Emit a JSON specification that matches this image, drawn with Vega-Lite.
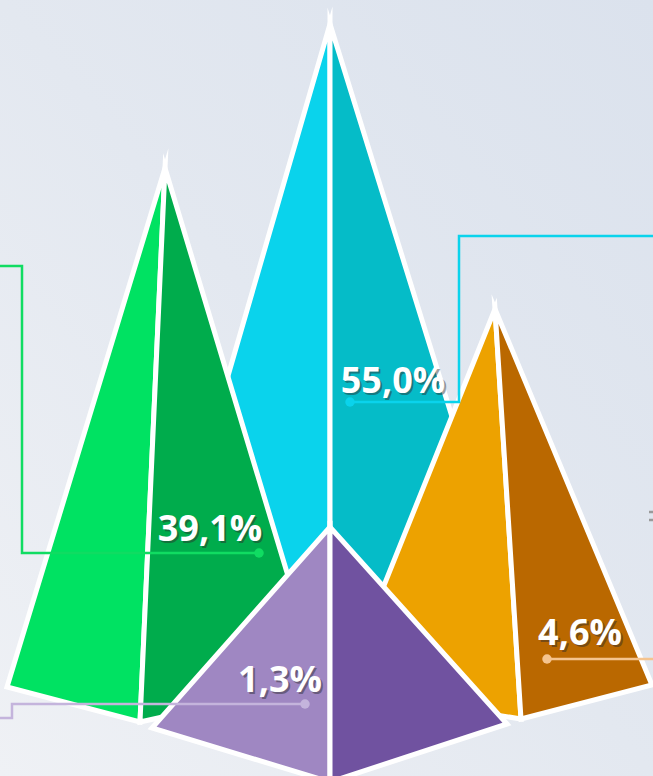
{
  "$schema": "https://vega.github.io/schema/vega-lite/v6.json",
  "width": 653,
  "height": 776,
  "padding": 0,
  "autosize": {"type": "none"},
  "background": "#e4e9f1",
  "config": {"view": {"stroke": null}},
  "datasets": {
    "bg": [{"x": 0, "x2": 653, "y": 0, "y2": 776}],
    "faces": [
      {"pyr": "cyan", "face": "cL", "i": 0, "x": 330, "y": 24},
      {"pyr": "cyan", "face": "cL", "i": 1, "x": 134, "y": 700},
      {"pyr": "cyan", "face": "cL", "i": 2, "x": 330, "y": 720},
      {"pyr": "cyan", "face": "cR", "i": 0, "x": 330, "y": 24},
      {"pyr": "cyan", "face": "cR", "i": 1, "x": 330, "y": 720},
      {"pyr": "cyan", "face": "cR", "i": 2, "x": 540, "y": 700},
      {"pyr": "green", "face": "gL", "i": 0, "x": 165, "y": 168},
      {"pyr": "green", "face": "gL", "i": 1, "x": 7, "y": 687},
      {"pyr": "green", "face": "gL", "i": 2, "x": 140, "y": 722},
      {"pyr": "green", "face": "gR", "i": 0, "x": 165, "y": 168},
      {"pyr": "green", "face": "gR", "i": 1, "x": 140, "y": 722},
      {"pyr": "green", "face": "gR", "i": 2, "x": 320, "y": 682},
      {"pyr": "orange", "face": "oL", "i": 0, "x": 495, "y": 309},
      {"pyr": "orange", "face": "oL", "i": 1, "x": 342, "y": 690},
      {"pyr": "orange", "face": "oL", "i": 2, "x": 521, "y": 719},
      {"pyr": "orange", "face": "oR", "i": 0, "x": 495, "y": 309},
      {"pyr": "orange", "face": "oR", "i": 1, "x": 521, "y": 719},
      {"pyr": "orange", "face": "oR", "i": 2, "x": 652, "y": 685},
      {"pyr": "purple", "face": "pL", "i": 0, "x": 330, "y": 527},
      {"pyr": "purple", "face": "pL", "i": 1, "x": 152, "y": 728},
      {"pyr": "purple", "face": "pL", "i": 2, "x": 330, "y": 782},
      {"pyr": "purple", "face": "pR", "i": 0, "x": 330, "y": 527},
      {"pyr": "purple", "face": "pR", "i": 1, "x": 330, "y": 782},
      {"pyr": "purple", "face": "pR", "i": 2, "x": 507, "y": 724}
    ],
    "leaders": [
      {"s": "green", "i": 0, "x": 259, "y": 553},
      {"s": "green", "i": 1, "x": 22, "y": 553},
      {"s": "green", "i": 2, "x": 22, "y": 266},
      {"s": "green", "i": 3, "x": -5, "y": 266},
      {"s": "cyan", "i": 0, "x": 350, "y": 402},
      {"s": "cyan", "i": 1, "x": 459, "y": 402},
      {"s": "cyan", "i": 2, "x": 459, "y": 236},
      {"s": "cyan", "i": 3, "x": 660, "y": 236},
      {"s": "purple", "i": 0, "x": 305, "y": 704},
      {"s": "purple", "i": 1, "x": 12, "y": 704},
      {"s": "purple", "i": 2, "x": 12, "y": 718},
      {"s": "purple", "i": 3, "x": -5, "y": 718},
      {"s": "orange", "i": 0, "x": 547, "y": 659},
      {"s": "orange", "i": 1, "x": 660, "y": 659},
      {"s": "gray1", "i": 0, "x": 649, "y": 512},
      {"s": "gray1", "i": 1, "x": 656, "y": 512},
      {"s": "gray2", "i": 0, "x": 649, "y": 520},
      {"s": "gray2", "i": 1, "x": 656, "y": 520}
    ],
    "dots": [
      {"s": "green", "x": 259, "y": 553},
      {"s": "cyan", "x": 350, "y": 402},
      {"s": "purple", "x": 305, "y": 704},
      {"s": "orange", "x": 547, "y": 659}
    ],
    "labels": [
      {"label": "39,1%", "x": 210, "y": 541},
      {"label": "55,0%", "x": 393, "y": 393},
      {"label": "1,3%", "x": 280, "y": 692},
      {"label": "4,6%", "x": 580, "y": 645}
    ]
  },
  "encoding": {
    "x": {"field": "x", "type": "quantitative", "scale": {"domain": [0, 653], "nice": false, "zero": false}, "axis": null},
    "y": {"field": "y", "type": "quantitative", "scale": {"domain": [0, 776], "nice": false, "zero": false, "reverse": true}, "axis": null}
  },
  "layer": [
    {
      "data": {"name": "bg"},
      "mark": {"type": "rect", "fill": {"gradient": "linear", "x1": 0, "y1": 1, "x2": 1, "y2": 0, "stops": [{"offset": 0, "color": "#eff1f5"}, {"offset": 0.5, "color": "#e3e8f0"}, {"offset": 1, "color": "#dbe2ed"}]}},
      "encoding": {"x2": {"field": "x2"}, "y2": {"field": "y2"}}
    },
    {
      "data": {"name": "faces"},
      "transform": [{"filter": "datum.pyr === 'cyan'"}],
      "mark": {"type": "line", "interpolate": "linear-closed", "stroke": "white", "strokeWidth": 5, "strokeJoin": "miter", "strokeMiterLimit": 10},
      "encoding": {"detail": {"field": "face"}, "order": {"field": "i", "type": "quantitative"},
        "fill": {"field": "face", "type": "nominal", "legend": null, "scale": {"domain": ["cL", "cR", "gL", "gR", "oL", "oR", "pL", "pR"], "range": ["#0ad3ec", "#05bcc8", "#00e262", "#00ac4c", "#eda200", "#ba6800", "#9f87c2", "#7052a0"]}}}
    },
    {
      "data": {"name": "faces"},
      "transform": [{"filter": "datum.pyr === 'green'"}],
      "mark": {"type": "line", "interpolate": "linear-closed", "stroke": "white", "strokeWidth": 5, "strokeJoin": "miter", "strokeMiterLimit": 10},
      "encoding": {"detail": {"field": "face"}, "order": {"field": "i", "type": "quantitative"},
        "fill": {"field": "face", "type": "nominal", "legend": null}}
    },
    {
      "data": {"name": "faces"},
      "transform": [{"filter": "datum.pyr === 'orange'"}],
      "mark": {"type": "line", "interpolate": "linear-closed", "stroke": "white", "strokeWidth": 5, "strokeJoin": "miter", "strokeMiterLimit": 10},
      "encoding": {"detail": {"field": "face"}, "order": {"field": "i", "type": "quantitative"},
        "fill": {"field": "face", "type": "nominal", "legend": null}}
    },
    {
      "data": {"name": "faces"},
      "transform": [{"filter": "datum.pyr === 'purple'"}],
      "mark": {"type": "line", "interpolate": "linear-closed", "stroke": "white", "strokeWidth": 5, "strokeJoin": "miter", "strokeMiterLimit": 10},
      "encoding": {"detail": {"field": "face"}, "order": {"field": "i", "type": "quantitative"},
        "fill": {"field": "face", "type": "nominal", "legend": null}}
    },
    {
      "data": {"name": "leaders"},
      "mark": {"type": "line", "strokeWidth": 2.5},
      "encoding": {"detail": {"field": "s"}, "order": {"field": "i", "type": "quantitative"},
        "stroke": {"field": "s", "type": "nominal", "legend": null, "scale": {"domain": ["green", "cyan", "purple", "orange", "gray1", "gray2"], "range": ["#10dc62", "#0ad3ec", "#c4b4dc", "#f5c48f", "#9a9a9a", "#9a9a9a"]}}}
    },
    {
      "data": {"name": "dots"},
      "mark": {"type": "circle", "size": 90, "opacity": 1},
      "encoding": {"color": {"field": "s", "type": "nominal", "legend": null, "scale": {"domain": ["green", "cyan", "purple", "orange"], "range": ["#10dc62", "#0ad3ec", "#c4b4dc", "#f5c48f"]}}}
    },
    {
      "data": {"name": "labels"},
      "mark": {"type": "text", "font": "Open Sans", "fontWeight": "bold", "fontSize": 36, "align": "center", "baseline": "alphabetic", "fill": "#2a2a2a", "opacity": 0.45, "dx": 2, "dy": 2},
      "encoding": {"text": {"field": "label"}}
    },
    {
      "data": {"name": "labels"},
      "mark": {"type": "text", "font": "Open Sans", "fontWeight": "bold", "fontSize": 36, "align": "center", "baseline": "alphabetic", "fill": "white"},
      "encoding": {"text": {"field": "label"}}
    }
  ]
}
